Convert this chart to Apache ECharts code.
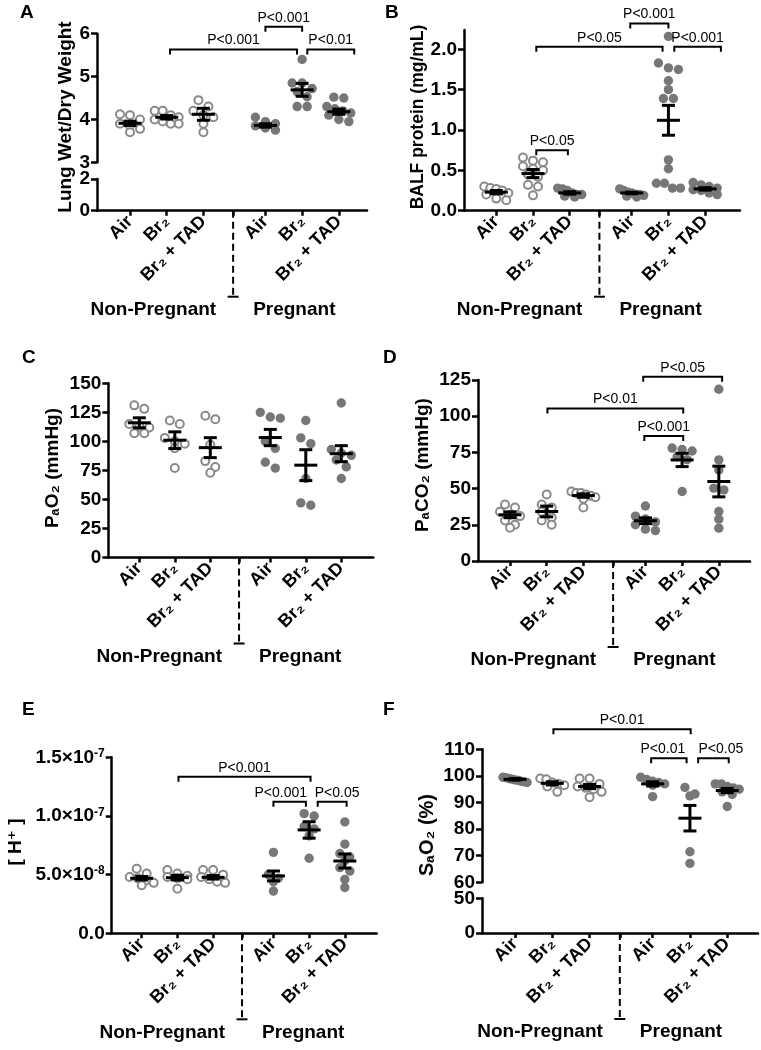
<!DOCTYPE html>
<html><head><meta charset="utf-8">
<script src="https://cdn.jsdelivr.net/npm/echarts@6/dist/echarts.min.js"></script>
<style>html,body{margin:0;padding:0;background:#fff}#c{width:761px;height:1050px}</style>
</head><body><div id="c"></div>
<script>
// ---------- data ----------
const groupLabels = ['Air', 'Br₂', 'Br₂ + TAD', 'Air', 'Br₂', 'Br₂ + TAD'];
const groupX = [1, 2, 3, 4.69, 5.69, 6.69];
const dividerX = 3.81;
const sideLabels = ['Non-Pregnant', 'Pregnant'];

// A: Lung wet/dry weight
const aVals = [
  [4.12, 4.1, 4.0, 3.9, 3.85, 3.78, 3.7],
  [4.2, 4.2, 4.1, 4.05, 4.0, 3.95, 3.9, 3.9],
  [4.45, 4.3, 4.2, 4.1, 4.05, 3.9, 3.7],
  [4.05, 3.95, 3.9, 3.85, 3.8, 3.75],
  [5.4, 4.85, 4.85, 4.72, 4.65, 4.53, 4.3, 4.3],
  [4.52, 4.5, 4.3, 4.25, 4.2, 4.15, 4.1, 4.0, 3.95]
];
const aMean = [3.91, 4.05, 4.12, 3.86, 4.69, 4.18];
const aSem = [0.05, 0.04, 0.14, 0.04, 0.15, 0.06];
const aTicks = [0, 2, 3, 4, 5, 6];
const aBrackets = [[2.09, 5.55, 5.63, 'P<0.001', 0], [4.69, 5.69, 6.16, 'P<0.001', 0], [5.83, 7.11, 5.63, 'P<0.01', 0]];

// B: BALF protein
const bVals = [
  [0.3, 0.28, 0.27, 0.25, 0.22, 0.2, 0.15, 0.13],
  [0.66, 0.62, 0.6, 0.55, 0.52, 0.5, 0.45, 0.42, 0.32, 0.3, 0.19],
  [0.28, 0.27, 0.25, 0.22, 0.2, 0.2, 0.18, 0.17],
  [0.27, 0.25, 0.23, 0.22, 0.2, 0.2, 0.19, 0.18, 0.17],
  [2.16, 1.83, 1.77, 1.75, 1.61, 1.5, 1.39, 1.39, 0.63, 0.52, 0.34, 0.34, 0.28, 0.28],
  [0.35, 0.32, 0.3, 0.28, 0.26, 0.25, 0.22, 0.2]
];
const bMean = [0.23, 0.46, 0.22, 0.22, 1.12, 0.27];
const bSem = [0.02, 0.05, 0.015, 0.01, 0.185, 0.015];
const bTicks = [0, 0.5, 1, 1.5, 2];
const bBrackets = [[2.09, 5.53, 2.03, 'P<0.05', 0], [4.65, 5.69, 2.32, 'P<0.001', 0], [5.85, 7.12, 2.03, 'P<0.001', 0], [2.09, 2.95, 0.75, 'P<0.05', 0]];

// C: PaO2
const cVals = [
  [131, 128, 115, 113, 112, 107, 107],
  [118, 115, 103, 100, 98, 94, 77],
  [122, 119, 97, 83, 78, 73],
  [125, 121, 120, 100, 94, 82, 77],
  [118, 103, 98, 68, 47, 45],
  [133, 93, 90, 88, 84, 78, 68]
];
const cMean = [116, 101, 94.6, 103.3, 79.5, 89.4];
const cSem = [4.3, 7.2, 8.6, 7, 13.3, 6.9];
const cTicks = [0, 25, 50, 75, 100, 125, 150];
const cBrackets = [];

// D: PaCO2
const dVals = [
  [39, 37, 34, 32, 31, 28, 25, 23],
  [46, 39, 37, 34, 30, 28, 25],
  [48, 47, 47, 46, 45, 44, 43, 37],
  [38, 31, 29, 27, 25, 22, 21],
  [78, 77, 76, 72, 70, 48],
  [118.6, 69.8, 62.9, 50.3, 49.1, 34.2, 28.9, 22.7]
];
const dMean = [31.9, 34.2, 45.2, 27.8, 69.8, 54.9];
const dSem = [2, 3.7, 1.2, 2, 4.6, 10.6];
const dTicks = [0, 25, 50, 75, 100, 125];
const dBrackets = [[4.63, 6.78, 127.3, 'P<0.05', 0], [2.02, 5.72, 105.4, 'P<0.01', 0], [4.66, 5.72, 86.3, 'P<0.001', 0]];

// E: [H+]  (values in units of 1e-8)
const eVals = [
  [5.5, 5.1, 4.8, 4.7, 4.5, 4.3, 4.1],
  [5.4, 5.1, 4.9, 4.8, 4.7, 4.6, 3.8],
  [5.4, 5.4, 5.0, 4.8, 4.6, 4.4, 4.3],
  [6.9, 5.0, 4.7, 4.4, 3.6],
  [10.2, 10.0, 9.1, 8.9, 8.3, 6.4],
  [9.5, 7.6, 6.8, 6.5, 6.2, 5.6, 5.3, 4.6, 3.9]
];
const eMean = [4.69, 4.74, 4.77, 4.89, 8.81, 6.16];
const eSem = [0.15, 0.2, 0.15, 0.42, 0.7, 0.6];
const eTicks = [0, 5, 10, 15];
const eTickBase = ['0.0', '5.0×10', '1.0×10', '1.5×10'];
const eTickExp = ['', '-8', '-7', '-7'];
const eBrackets = [[2.03, 5.73, 13.35, 'P<0.001', 0], [4.69, 5.60, 11.22, 'P<0.001', -0.25], [5.93, 6.74, 11.22, 'P<0.05', 0.14]];

// F: SaO2
const fVals = [
  [99.5, 99.3, 99, 98.8, 98.5, 98.3, 98, 97.8, 97.5],
  [99, 98.7, 97.5, 97, 96.5, 96, 94],
  [99, 99, 97, 96, 95.5, 95, 94, 92],
  [99.5, 98.7, 98, 97.5, 97, 96.5, 92.2],
  [95.7, 93.2, 92.5, 71.5, 67.1],
  [97, 97, 96, 95.5, 95, 94, 93, 88.5]
];
const fMean = [98.7, 97.2, 96, 97, 84.1, 94.5];
const fSem = [0.3, 0.6, 0.8, 0.8, 4.8, 0.8];
const fTicks = [0, 50, 60, 70, 80, 90, 100, 110];
const fBrackets = [[2.03, 5.71, 117.5, 'P<0.01', 0], [4.65, 5.60, 106.6, 'P<0.01', -0.16], [5.91, 6.73, 106.6, 'P<0.05', 0.2]];

// ---------- layout / style ----------
const FONT = '"Liberation Sans", Arial, "DejaVu Sans", sans-serif';
const OPEN_STROKE = '#8a8a8a', FILL = '#777777';

const panels = [
  {letter: 'A', lx: 20, ly: 3, vals: aVals, mean: aMean, sem: aSem, ticks: aTicks, brackets: aBrackets,
   fmt: v => String(v), left: 97, right: 367, g1: 130, sp: 36.7,
   segs: [{min: 3, max: 6, top: 33.7, bottom: 162.3}, {min: 0, max: 2, top: 179, bottom: 210.7}],
   name: 'Lung Wet/Dry Weight', nameSize: 19, nameGap: 16, nameCY: 117,
   filled: [false, false, false, true, true, true]},
  {letter: 'B', lx: 385, ly: 3, vals: bVals, mean: bMean, sem: bSem, ticks: bTicks, brackets: bBrackets,
   fmt: v => v.toFixed(1), left: 464, right: 740, g1: 496.3, sp: 36.7,
   segs: [{min: 0, max: 2.24, top: 29.9, bottom: 210.7}],
   name: 'BALF protein (mg/mL)', nameSize: 17.5, nameGap: 14, nameCY: 117,
   filled: [false, false, true, true, true, true]},
  {letter: 'C', lx: 22, ly: 348, vals: cVals, mean: cMean, sem: cSem, ticks: cTicks, brackets: cBrackets,
   fmt: v => String(v), left: 108.3, right: 373.3, g1: 139.3, sp: 35.5,
   segs: [{min: 0, max: 150, top: 383.3, bottom: 557.5}],
   name: 'PₐO₂ (mmHg)', nameSize: 19, nameGap: 46, nameCY: 468,
   filled: [false, false, false, true, true, true]},
  {letter: 'D', lx: 383, ly: 348, vals: dVals, mean: dMean, sem: dSem, ticks: dTicks, brackets: dBrackets,
   fmt: v => String(v), left: 478, right: 750, g1: 510, sp: 36.7,
   segs: [{min: 0, max: 125, top: 380, bottom: 561}],
   name: 'PₐCO₂ (mmHg)', nameSize: 19, nameGap: 46, nameCY: 465,
   filled: [false, false, false, true, true, true]},
  {letter: 'E', lx: 22, ly: 700, vals: eVals, mean: eMean, sem: eSem, ticks: eTicks, brackets: eBrackets,
   fmt: v => { const k = eTicks.indexOf(v); return eTickExp[k] ? '{b|' + eTickBase[k] + '}{s|' + eTickExp[k] + '}' : '{b|' + eTickBase[k] + '}'; },
   left: 111.7, right: 376.7, g1: 141.7, sp: 35.7,
   segs: [{min: 0, max: 15, top: 757.3, bottom: 933.3}],
   name: '[ H⁺ ]', nameSize: 19, nameGap: 86, nameCY: 842,
   filled: [false, false, false, true, true, true]},
  {letter: 'F', lx: 383, ly: 700, vals: fVals, mean: fMean, sem: fSem, ticks: fTicks, brackets: fBrackets,
   fmt: v => String(v), left: 482, right: 758, g1: 515, sp: 37.3,
   segs: [{min: 60, max: 110, top: 749.3, bottom: 882.3}, {min: 0, max: 50, top: 898.3, bottom: 933}],
   name: 'SₐO₂ (%)', nameSize: 20, nameGap: 45, nameCY: 835,
   filled: [true, false, false, true, true, true]}
];

function labelFor(v) {
  for (let i = 0; i < groupX.length; i++) if (Math.abs(groupX[i] - v) < 1e-6) return groupLabels[i];
  return '';
}

// column-scatter spread (pixel space): points close in y are spread horizontally
function spread(ys) {
  const idx = ys.map((y, i) => i).sort((a, b) => ys[a] - ys[b]);
  const offs = new Array(ys.length).fill(0);
  let row = [];
  const flush = () => {
    const n = row.length;
    const s = n > 1 ? Math.min(10, 24 / (n - 1)) : 0;
    row.forEach((k, j) => { offs[k] = (j - (n - 1) / 2) * s; });
    row = [];
  };
  idx.forEach(k => { if (row.length && ys[k] - ys[row[0]] > 7) flush(); row.push(k); });
  flush();
  return offs;
}

const grid = [], xAxis = [], yAxis = [], series = [], graphic = [];
const axisLineStyle = {color: '#000', width: 2.5};
const tickRich = {
  b: {fontSize: 19, fontWeight: 'bold', fontFamily: FONT, color: '#000'},
  s: {fontSize: 12, fontWeight: 'bold', fontFamily: FONT, color: '#000', verticalAlign: 'top', lineHeight: 12}
};

panels.forEach(p => {
  const xmin = 1 - (p.g1 - p.left) / p.sp;
  const xmax = xmin + (p.right - p.left) / p.sp;
  const segIdx = [];
  p.segs.forEach((s, si) => {
    const gi = grid.length;
    segIdx.push(gi);
    const isBottom = si === p.segs.length - 1;
    grid.push({left: p.left, top: s.top, width: p.right - p.left, height: s.bottom - s.top,
      containLabel: false, outerBoundsMode: 'none'});
    xAxis.push({
      type: 'value', gridIndex: gi, min: xmin, max: xmax, show: isBottom,
      axisLine: {show: true, onZero: false, lineStyle: axisLineStyle},
      axisTick: {show: true, customValues: groupX.concat([dividerX]), length: 5, lineStyle: axisLineStyle},
      axisLabel: {show: true, customValues: groupX, rotate: 45, margin: 8, formatter: v => labelFor(v),
        color: '#000', fontSize: 18, fontWeight: 'bold', fontFamily: FONT},
      splitLine: {show: false}
    });
    const ticks = p.ticks.filter(t => t >= s.min - 1e-9 && t <= s.max + 1e-9);
    const segCenter = (s.top + s.bottom) / 2;
    const shift = p.nameCY - segCenter;
    const pad = shift >= 0 ? [0, 2 * shift, 0, 0] : [0, 0, 0, -2 * shift];
    yAxis.push({
      type: 'value', gridIndex: gi, min: s.min, max: s.max,
      axisLine: {show: true, onZero: false, lineStyle: axisLineStyle},
      axisTick: {show: true, customValues: ticks, length: 6, lineStyle: axisLineStyle},
      axisLabel: {show: true, customValues: ticks, formatter: v => p.fmt(v), margin: 7,
        color: '#000', fontSize: 19, fontWeight: 'bold', fontFamily: FONT, rich: tickRich},
      splitLine: {show: false},
      name: si === 0 ? p.name : '', nameLocation: 'middle', nameGap: p.nameGap,
      nameTextStyle: {color: '#000', fontSize: p.nameSize, fontWeight: 'bold', fontFamily: FONT, padding: pad}
    });
  });
  const top = segIdx[0], bot = segIdx[segIdx.length - 1];

  // points + mean ± SEM
  series.push({
    type: 'custom', xAxisIndex: top, yAxisIndex: top, clip: false, z: 3,
    data: groupX.map((x, i) => [x, p.mean[i], p.sem[i]]),
    encode: {x: 0, y: 1},
    renderItem(params, api) {
      const i = params.dataIndex;
      const x = api.value(0), m = api.value(1), s = api.value(2);
      const vals = p.vals[i];
      const cx = api.coord([x, m])[0];
      const ys = vals.map(v => api.coord([x, v])[1]);
      const offs = spread(ys);
      const filled = p.filled[i];
      const children = [];
      ys.forEach((y, k) => children.push({
        type: 'circle', shape: {cx: cx + offs[k], cy: y, r: filled ? 4.7 : 4},
        style: filled ? {fill: FILL} : {fill: '#fff', stroke: OPEN_STROKE, lineWidth: 2}
      }));
      const ym = api.coord([x, m])[1], yh = api.coord([x, m + s])[1], yl = api.coord([x, m - s])[1];
      const ls = {stroke: '#000', lineWidth: 3};
      children.push({type: 'line', shape: {x1: cx - 11.5, y1: ym, x2: cx + 11.5, y2: ym}, style: ls});
      children.push({type: 'line', shape: {x1: cx, y1: yh, x2: cx, y2: yl}, style: ls});
      children.push({type: 'line', shape: {x1: cx - 6.5, y1: yh, x2: cx + 6.5, y2: yh}, style: ls});
      children.push({type: 'line', shape: {x1: cx - 6.5, y1: yl, x2: cx + 6.5, y2: yl}, style: ls});
      return {type: 'group', children};
    }
  });

  // significance brackets
  if (p.brackets.length) series.push({
    type: 'custom', xAxisIndex: top, yAxisIndex: top, clip: false, z: 4,
    data: p.brackets.map(b => [b[0], b[1], b[2]]),
    encode: {x: [0, 1], y: 2},
    renderItem(params, api) {
      const b = p.brackets[params.dataIndex];
      const p1 = api.coord([b[0], b[2]]), p2 = api.coord([b[1], b[2]]);
      const tx = api.coord([(b[0] + b[1]) / 2 + b[4], b[2]])[0];
      return {type: 'group', children: [
        {type: 'polyline', shape: {points: [[p1[0], p1[1] + 5], [p1[0], p1[1]], [p2[0], p2[1]], [p2[0], p2[1] + 5]]},
          style: {stroke: '#000', lineWidth: 2, fill: null}},
        {type: 'text', style: {text: b[3], x: tx, y: p1[1] - 2, align: 'center', verticalAlign: 'bottom',
          fontSize: 14, fontFamily: FONT, fill: '#000'}}
      ]};
    }
  });

  // divider and Non-Pregnant / Pregnant labels
  const bmin = p.segs[p.segs.length - 1].min;
  series.push({
    type: 'custom', xAxisIndex: bot, yAxisIndex: bot, clip: false, z: 4,
    data: [[dividerX, bmin]], encode: {x: 0, y: 1},
    renderItem(params, api) {
      const c = api.coord([api.value(0), api.value(1)]);
      const L = 86;
      return {type: 'group', children: [
        {type: 'line', shape: {x1: c[0], y1: c[1], x2: c[0], y2: c[1] + L}, style: {stroke: '#000', lineWidth: 2, lineDash: [7, 4]}},
        {type: 'line', shape: {x1: c[0] - 5.5, y1: c[1] + L, x2: c[0] + 5.5, y2: c[1] + L}, style: {stroke: '#000', lineWidth: 2}},
        {type: 'text', style: {text: sideLabels[0], x: c[0] - 17, y: c[1] + 99, align: 'right', verticalAlign: 'middle',
          fontSize: 19, fontWeight: 'bold', fontFamily: FONT, fill: '#000'}},
        {type: 'text', style: {text: sideLabels[1], x: c[0] + 20, y: c[1] + 99, align: 'left', verticalAlign: 'middle',
          fontSize: 19, fontWeight: 'bold', fontFamily: FONT, fill: '#000'}}
      ]};
    }
  });

  graphic.push({type: 'text', left: p.lx, top: p.ly, style: {text: p.letter, fontSize: 19, fontWeight: 'bold', fontFamily: FONT, fill: '#000'}});
});

const chart = echarts.init(document.getElementById('c'), null, {renderer: 'canvas', width: 761, height: 1050});
chart.setOption({
  animation: false,
  backgroundColor: '#fff',
  textStyle: {fontFamily: FONT},
  grid, xAxis, yAxis, series, graphic
});
</script>
</body></html>
